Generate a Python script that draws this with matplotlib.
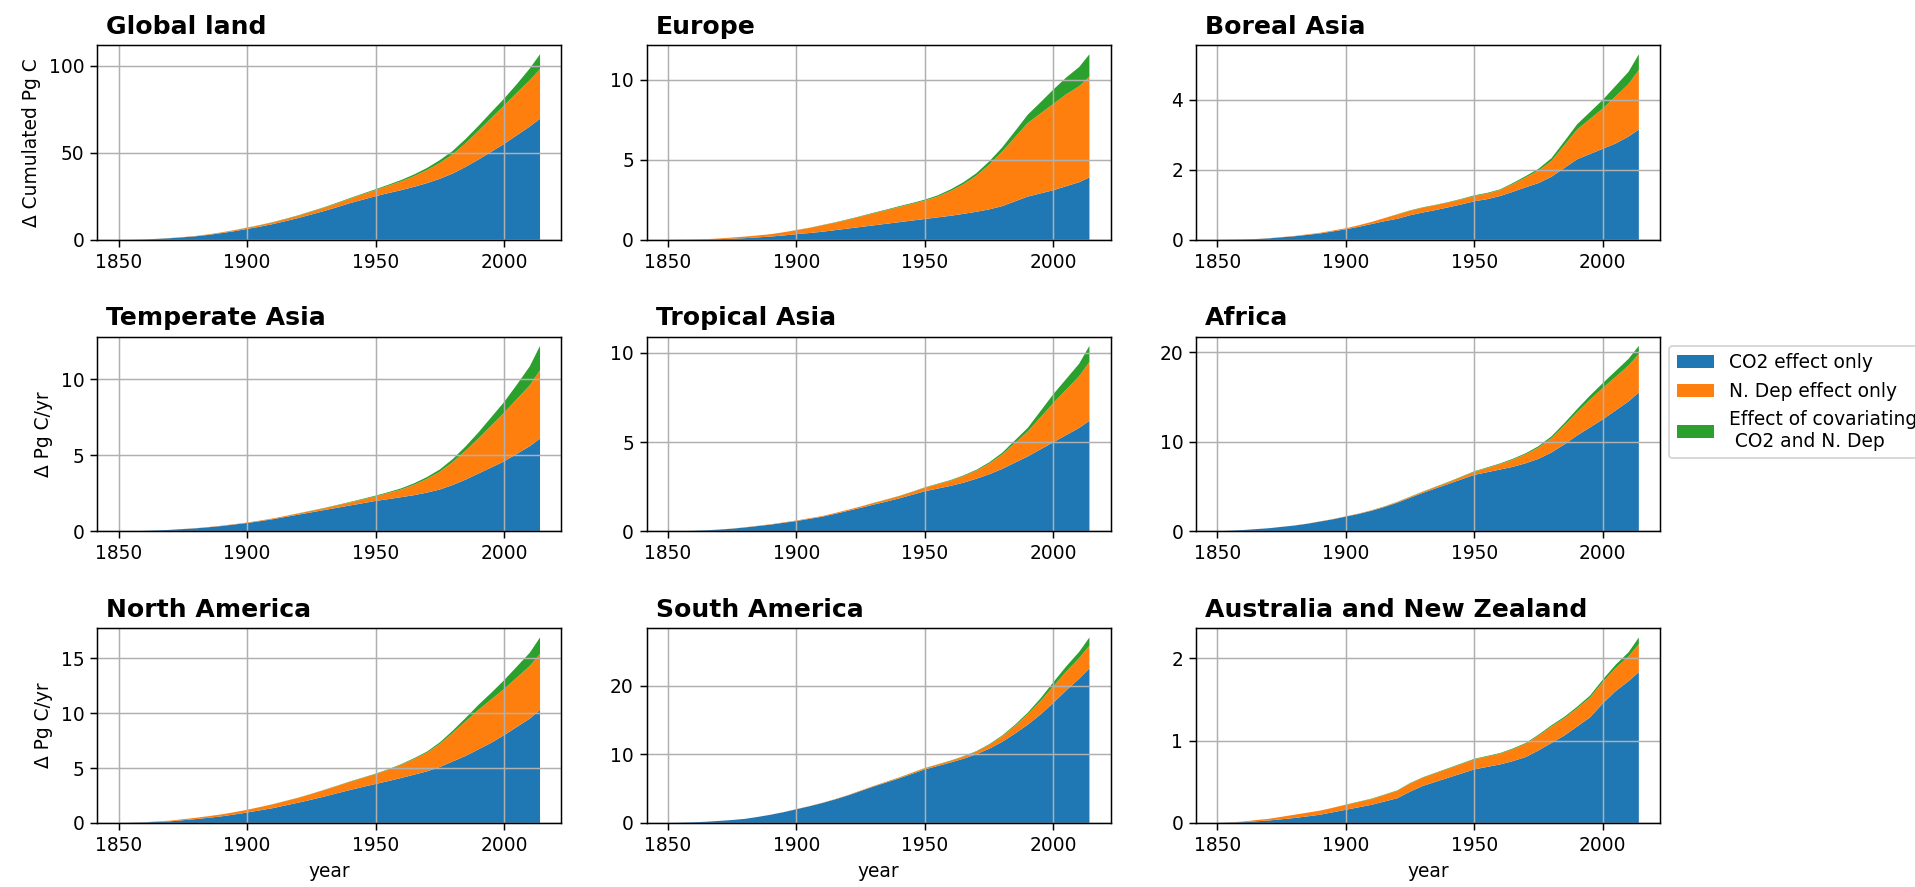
import matplotlib
matplotlib.use('Agg')
import matplotlib.pyplot as plt
from matplotlib.ticker import MaxNLocator

DPI = 134

years = [1850, 1855, 1860, 1865, 1870, 1875, 1880, 1885, 1890, 1895,
         1900, 1905, 1910, 1915, 1920, 1925, 1930, 1935, 1940, 1945,
         1950, 1955, 1960, 1965, 1970, 1975, 1980, 1985, 1990, 1995,
         2000, 2005, 2010, 2014]

# cumulated sink change per factorial experiment, Pg C
global_co2 = [0, 0.05, 0.2, 0.5, 0.9, 1.4, 2.0, 2.8, 3.8, 4.9,
              6.2, 7.5, 9.0, 10.7, 12.5, 14.5, 16.5, 18.7, 21.0, 23.0,
              25.0, 26.8, 28.5, 30.4, 32.5, 35.0, 38.0, 41.8, 46.0, 50.5,
              55.0, 60.0, 65.0, 69.5]
global_ndep = [0, 0.01, 0.02, 0.05, 0.1, 0.15, 0.2, 0.3, 0.4, 0.55,
               0.7, 0.85, 1.0, 1.2, 1.4, 1.65, 1.9, 2.2, 2.5, 3.0,
               3.5, 4.2, 5.0, 6.1, 7.5, 9.1, 11.0, 13.6, 16.5, 19.3,
               22.0, 24.4, 26.5, 28.5]
global_cov = [0, 0, 0, 0, 0, 0, 0, 0.02, 0.05, 0.07,
              0.1, 0.12, 0.15, 0.17, 0.2, 0.25, 0.3, 0.35, 0.4, 0.45,
              0.5, 0.6, 0.8, 1.0, 1.2, 1.6, 2.0, 2.4, 2.8, 3.4,
              4.0, 5.0, 6.8, 8.5]

europe_co2 = [0, 0.005, 0.01, 0.02, 0.04, 0.07, 0.1, 0.15, 0.2, 0.27,
              0.35, 0.42, 0.5, 0.6, 0.7, 0.8, 0.9, 1.0, 1.1, 1.2,
              1.3, 1.4, 1.5, 1.62, 1.75, 1.9, 2.1, 2.4, 2.7, 2.9,
              3.1, 3.35, 3.6, 3.9]
europe_ndep = [0, 0.005, 0.01, 0.02, 0.04, 0.07, 0.1, 0.12, 0.15, 0.2,
               0.25, 0.32, 0.4, 0.47, 0.55, 0.65, 0.75, 0.85, 0.95, 1.05,
               1.15, 1.3, 1.55, 1.85, 2.25, 2.8, 3.4, 4.0, 4.6, 5.0,
               5.4, 5.75, 6.0, 6.3]
europe_cov = [0, 0, 0, 0, 0, 0, 0, 0, 0, 0,
              0.01, 0.01, 0.02, 0.02, 0.03, 0.03, 0.04, 0.04, 0.05, 0.05,
              0.06, 0.08, 0.1, 0.13, 0.16, 0.2, 0.26, 0.38, 0.52, 0.7,
              0.9, 1.05, 1.2, 1.4]

boreal_co2 = [0, 0.005, 0.01, 0.02, 0.04, 0.07, 0.1, 0.14, 0.18, 0.24,
              0.3, 0.37, 0.45, 0.53, 0.6, 0.7, 0.78, 0.85, 0.93, 1.01,
              1.1, 1.16, 1.25, 1.37, 1.5, 1.62, 1.8, 2.05, 2.3, 2.45,
              2.6, 2.75, 2.95, 3.15]
boreal_ndep = [0, 0, 0, 0, 0.005, 0.007, 0.01, 0.015, 0.02, 0.025,
               0.03, 0.045, 0.06, 0.09, 0.12, 0.13, 0.14, 0.14, 0.14, 0.145,
               0.15, 0.16, 0.17, 0.22, 0.28, 0.36, 0.45, 0.65, 0.85, 1.0,
               1.15, 1.35, 1.5, 1.7]
boreal_cov = [0, 0, 0, 0, 0, 0, 0, 0, 0, 0,
              0, 0, 0, 0, 0.01, 0.01, 0.01, 0.01, 0.01, 0.015,
              0.02, 0.02, 0.02, 0.03, 0.04, 0.05, 0.08, 0.11, 0.15, 0.2,
              0.25, 0.3, 0.35, 0.45]

temperate_co2 = [0, 0.01, 0.03, 0.06, 0.1, 0.15, 0.2, 0.27, 0.35, 0.45,
                 0.55, 0.67, 0.8, 0.95, 1.1, 1.25, 1.4, 1.55, 1.7, 1.85,
                 2.0, 2.12, 2.25, 2.38, 2.55, 2.75, 3.05, 3.4, 3.8, 4.2,
                 4.6, 5.1, 5.6, 6.1]
temperate_ndep = [0, 0, 0, 0, 0, 0.005, 0.01, 0.015, 0.02, 0.025,
                  0.03, 0.04, 0.05, 0.065, 0.08, 0.1, 0.12, 0.16, 0.2, 0.25,
                  0.3, 0.4, 0.5, 0.68, 0.9, 1.17, 1.5, 1.9, 2.3, 2.75,
                  3.2, 3.6, 4.0, 4.5]
temperate_cov = [0, 0, 0, 0, 0, 0, 0, 0, 0, 0,
                 0, 0, 0, 0, 0.01, 0.015, 0.02, 0.025, 0.03, 0.04,
                 0.05, 0.06, 0.08, 0.1, 0.12, 0.15, 0.2, 0.28, 0.4, 0.55,
                 0.7, 0.95, 1.25, 1.6]

tropical_co2 = [0, 0.01, 0.03, 0.06, 0.1, 0.15, 0.22, 0.3, 0.38, 0.48,
                0.58, 0.7, 0.82, 0.98, 1.15, 1.32, 1.5, 1.67, 1.85, 2.05,
                2.25, 2.4, 2.55, 2.73, 2.95, 3.2, 3.5, 3.85, 4.2, 4.6,
                5.0, 5.4, 5.8, 6.2]
tropical_ndep = [0, 0, 0, 0, 0.005, 0.007, 0.01, 0.015, 0.02, 0.025,
                 0.03, 0.035, 0.04, 0.05, 0.06, 0.075, 0.09, 0.11, 0.13, 0.16,
                 0.2, 0.25, 0.3, 0.37, 0.45, 0.6, 0.8, 1.1, 1.4, 1.8,
                 2.2, 2.55, 2.9, 3.3]
tropical_cov = [0, 0, 0, 0, 0, 0, 0, 0, 0, 0,
                0, 0, 0, 0, 0, 0, 0.01, 0.01, 0.01, 0.015,
                0.02, 0.025, 0.03, 0.04, 0.05, 0.07, 0.1, 0.15, 0.2, 0.35,
                0.5, 0.6, 0.7, 0.9]

africa_co2 = [0, 0.07, 0.15, 0.25, 0.35, 0.5, 0.65, 0.85, 1.1, 1.35,
              1.65, 1.95, 2.3, 2.72, 3.2, 3.75, 4.3, 4.8, 5.3, 5.8,
              6.3, 6.6, 6.9, 7.2, 7.6, 8.1, 8.8, 9.7, 10.7, 11.6,
              12.5, 13.5, 14.5, 15.5]
africa_ndep = [0, 0, 0, 0, 0, 0.005, 0.01, 0.015, 0.02, 0.025,
               0.03, 0.04, 0.05, 0.065, 0.08, 0.1, 0.12, 0.16, 0.2, 0.27,
               0.35, 0.47, 0.6, 0.8, 1.0, 1.25, 1.6, 2.1, 2.6, 3.1,
               3.5, 3.75, 4.0, 4.3]
africa_cov = [0, 0, 0, 0, 0, 0, 0, 0, 0, 0,
              0, 0, 0.01, 0.015, 0.02, 0.025, 0.03, 0.035, 0.04, 0.05,
              0.06, 0.07, 0.08, 0.1, 0.12, 0.16, 0.2, 0.27, 0.35, 0.45,
              0.55, 0.65, 0.75, 0.9]

namerica_co2 = [0, 0.02, 0.05, 0.1, 0.15, 0.25, 0.35, 0.47, 0.6, 0.77,
                0.95, 1.15, 1.35, 1.6, 1.85, 2.12, 2.4, 2.7, 3.0, 3.28,
                3.55, 3.82, 4.1, 4.4, 4.7, 5.1, 5.6, 6.1, 6.7, 7.3,
                8.0, 8.75, 9.5, 10.3]
namerica_ndep = [0, 0.01, 0.02, 0.04, 0.06, 0.09, 0.12, 0.15, 0.18, 0.21,
                 0.25, 0.3, 0.35, 0.4, 0.45, 0.52, 0.6, 0.67, 0.75, 0.82,
                 0.9, 1.03, 1.2, 1.42, 1.7, 2.1, 2.6, 3.15, 3.6, 3.95,
                 4.2, 4.5, 4.8, 5.1]
namerica_cov = [0, 0, 0, 0, 0, 0, 0, 0, 0, 0,
                0, 0, 0.01, 0.01, 0.01, 0.015, 0.02, 0.025, 0.03, 0.035,
                0.04, 0.05, 0.06, 0.08, 0.1, 0.14, 0.2, 0.3, 0.45, 0.6,
                0.8, 1.0, 1.2, 1.5]

samerica_co2 = [0, 0.04, 0.1, 0.18, 0.3, 0.43, 0.6, 0.88, 1.2, 1.57,
                2.0, 2.43, 2.9, 3.43, 4.0, 4.65, 5.3, 5.9, 6.5, 7.15,
                7.8, 8.3, 8.8, 9.35, 10.0, 10.8, 11.8, 13.0, 14.3, 15.8,
                17.5, 19.3, 21.0, 22.5]
samerica_ndep = [0, 0, 0, 0, 0, 0, 0, 0.005, 0.01, 0.015,
                 0.02, 0.025, 0.03, 0.04, 0.05, 0.065, 0.08, 0.1, 0.12, 0.15,
                 0.18, 0.21, 0.25, 0.32, 0.4, 0.58, 0.8, 1.1, 1.5, 1.95,
                 2.4, 2.75, 3.0, 3.3]
samerica_cov = [0, 0, 0, 0, 0, 0, 0, 0, 0, 0,
                0, 0, 0, 0, 0.01, 0.01, 0.01, 0.015, 0.02, 0.025,
                0.03, 0.035, 0.04, 0.05, 0.06, 0.09, 0.12, 0.18, 0.25, 0.4,
                0.6, 0.75, 0.9, 1.2]

aus_co2 = [0, 0.005, 0.01, 0.02, 0.03, 0.045, 0.06, 0.08, 0.1, 0.13,
           0.16, 0.19, 0.22, 0.26, 0.3, 0.38, 0.45, 0.5, 0.55, 0.6,
           0.65, 0.68, 0.71, 0.75, 0.8, 0.88, 0.97, 1.06, 1.17, 1.28,
           1.45, 1.6, 1.72, 1.83]
aus_ndep = [0, 0.003, 0.007, 0.015, 0.02, 0.03, 0.04, 0.045, 0.05, 0.055,
            0.06, 0.065, 0.07, 0.08, 0.09, 0.1, 0.1, 0.105, 0.11, 0.115,
            0.12, 0.125, 0.13, 0.145, 0.16, 0.18, 0.2, 0.21, 0.22, 0.24,
            0.26, 0.28, 0.3, 0.34]
aus_cov = [0, 0, 0, 0, 0, 0, 0, 0, 0, 0,
           0.003, 0.004, 0.005, 0.005, 0.005, 0.005, 0.005, 0.006, 0.006, 0.007,
           0.008, 0.008, 0.008, 0.009, 0.01, 0.012, 0.015, 0.017, 0.02, 0.025,
           0.03, 0.04, 0.05, 0.08]

titles = ['Global land', 'Europe', 'Boreal Asia',
          'Temperate Asia', 'Tropical Asia', 'Africa',
          'North America', 'South America', 'Australia and New Zealand']
row_ylabels = ['\u0394 Cumulated Pg C', '\u0394 Pg C/yr', '\u0394 Pg C/yr']
labels = ['CO2 effect only', 'N. Dep effect only', 'Effect of covariating\n CO2 and N. Dep']

series = [
    (global_co2, global_ndep, global_cov),
    (europe_co2, europe_ndep, europe_cov),
    (boreal_co2, boreal_ndep, boreal_cov),
    (temperate_co2, temperate_ndep, temperate_cov),
    (tropical_co2, tropical_ndep, tropical_cov),
    (africa_co2, africa_ndep, africa_cov),
    (namerica_co2, namerica_ndep, namerica_cov),
    (samerica_co2, samerica_ndep, samerica_cov),
    (aus_co2, aus_ndep, aus_cov),
]

fig, axes = plt.subplots(3, 3, figsize=(1915 / DPI, 887 / DPI), dpi=DPI)
fig.subplots_adjust(left=0.0509, right=0.8668, top=0.9493, bottom=0.0722,
                    wspace=0.185, hspace=0.497)

for i, ax in enumerate(axes.flat):
    co2, ndep, cov = series[i]
    ax.stackplot(years, co2, ndep, cov, labels=labels)
    t = ax.set_title(titles[i], loc='left', fontweight='bold', fontsize=13.5)
    t.set_x(0.019)
    ax.grid(True)
    ax.xaxis.set_major_locator(MaxNLocator(nbins=4, steps=[1, 2, 2.5, 5, 10]))
    ax.yaxis.set_major_locator(MaxNLocator(nbins=4, steps=[1, 2, 2.5, 5, 10]))
    row, col = divmod(i, 3)
    if col == 0:
        ax.set_ylabel(row_ylabels[row])
    if row == 2:
        ax.set_xlabel('year')
    if i == 5:
        ax.legend(loc='upper left', bbox_to_anchor=(1.0, 1.0), fontsize=10)

fig.savefig('out.png', dpi=DPI)
plt.close(fig)
